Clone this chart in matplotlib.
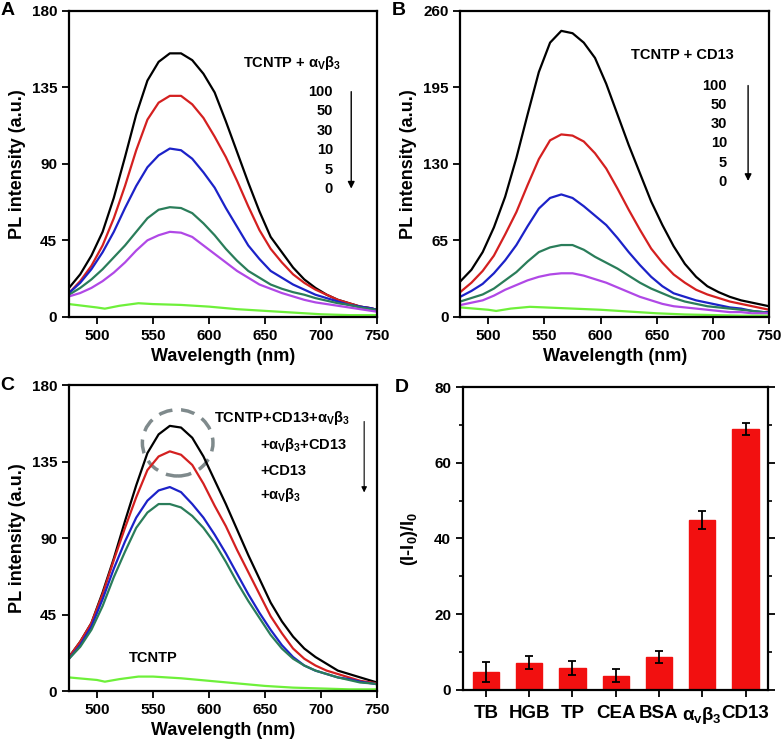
import numpy as np
import matplotlib
matplotlib.use("Agg")
import matplotlib.pyplot as plt
from matplotlib.patches import Ellipse

plt.rcParams["font.family"] = ["Liberation Sans", "DejaVu Sans"]
plt.rcParams["font.weight"] = "bold"
plt.rcParams["mathtext.fontset"] = "custom"
plt.rcParams["mathtext.rm"] = "Liberation Sans:bold"
plt.rcParams["mathtext.it"] = "Liberation Sans:bold"
plt.rcParams["mathtext.bf"] = "Liberation Sans:bold"

wl = [475, 485, 495, 505, 515, 525, 535, 545, 555, 565, 575, 585, 595, 605, 615,
      625, 635, 645, 655, 665, 675, 685, 695, 705, 715, 725, 735, 745, 750]
wl_low = [475, 500, 507, 520, 537, 550, 575, 600, 625, 650, 675, 700, 725, 750]

# panel A : TCNTP + avb3 (100, 50, 30, 10, 5, 0)
a_black = [17, 25, 36, 50, 70, 94, 119, 139, 150, 155, 155, 151, 143, 132, 115,
           97, 79, 62, 47, 38, 29, 22, 17, 13, 10, 8, 6, 5, 4]
a_red = [14, 21, 30, 42, 58, 77, 98, 116, 126, 130, 130, 125, 117, 106, 94,
         80, 65, 51, 40, 32, 25, 20, 16, 13, 10, 8, 6, 5, 4]
a_blue = [14, 20, 28, 38, 50, 64, 77, 88, 95, 99, 98, 93, 85, 76, 64,
          53, 42, 34, 27, 23, 19, 16, 13, 11, 9, 7, 6, 5, 4]
a_teal = [13, 17, 22, 28, 35, 42, 50, 58, 63, 64.5, 64, 61, 55, 48, 40,
          33, 27, 23, 19, 16.5, 14.5, 13, 11, 9.5, 8, 7, 5.5, 4.5, 4]
a_purple = [12, 14, 17, 21, 26, 32, 39, 45, 48, 50, 49.5, 47, 42, 37, 32,
            27, 23, 19, 16.5, 14, 12, 10, 8.5, 7.5, 6.5, 5.5, 4.5, 3.5, 3]
a_green = [7.5, 5.5, 4.8, 6.5, 8, 7.5, 7, 6, 4.5, 3.5, 2.5, 1.5, 1, 1]

# panel B : TCNTP + CD13
b_black = [30, 40, 55, 76, 102, 135, 172, 208, 233, 243, 241, 233, 220, 198, 172,
           146, 122, 98, 78, 60, 45, 34, 26, 21, 17, 14, 12, 10, 9]
b_red = [21, 29, 39, 52, 70, 89, 112, 134, 150, 155, 154, 149, 139, 126, 109,
         91, 74, 58, 46, 36, 29, 23, 19, 16, 13, 11, 9, 7, 6]
b_blue = [17, 22, 28, 37, 48, 61, 77, 92, 101, 104, 101, 94, 86, 78, 67,
          55, 44, 34, 26, 20, 17, 14, 12, 10, 8, 7, 5, 4, 4]
b_teal = [13, 16, 19, 24, 31, 38, 47, 55, 59, 61, 61, 57, 51, 46, 41,
          35, 29, 24, 20, 16, 13, 11, 9, 8, 7, 6, 5, 4, 3]
b_purple = [10, 12, 14, 18, 23, 27, 31, 34, 36, 37, 37, 35, 32, 29, 25,
            21, 17, 14, 11, 9, 8, 7, 6, 5, 4, 4, 3, 3, 3]
b_green = [8, 6, 5, 7, 8.5, 8, 7, 6, 4.5, 3, 2, 1.5, 1, 1]

# panel C : combinations
c_black = [20, 29, 40, 58, 78, 100, 121, 140, 151, 156, 155, 149, 138, 124, 110,
           95, 80, 66, 52, 41, 32, 25, 20, 16, 12, 10, 8, 6, 5]
c_red = [20, 29, 40, 57, 77, 96, 114, 130, 138, 141, 139, 133, 122, 109, 97,
         83, 70, 57, 44, 34, 25, 19, 15, 12, 10, 8, 6, 5, 4.5]
c_blue = [19, 27, 38, 54, 72, 88, 102, 112, 118, 120, 117, 110, 102, 92, 81,
          69, 57, 46, 36, 27, 20, 15, 12, 10, 8, 7, 5.5, 4.5, 4]
c_teal = [19, 26, 36, 50, 67, 82, 96, 105, 110, 110, 108, 103, 96, 87, 76,
          64, 53, 43, 33, 25, 19, 15, 12, 10, 8, 6.5, 5, 4.5, 4]
c_green = [8, 6.5, 5.5, 7, 8.5, 8.5, 7.5, 6, 4.5, 3, 2, 1.5, 1, 1]

# panel D : selectivity
d_labels = ["TB", "HGB", "TP", "CEA", "BSA", r"$\alpha_v\beta_3$", "CD13"]
d_values = [4.8, 7.2, 5.8, 3.8, 8.7, 44.8, 68.8]
d_errors = [2.6, 1.7, 1.9, 1.8, 1.7, 2.4, 1.6]

colors = ["black", "#d42020", "#1c22c8", "#2a7d5a", "#b048e6", "#6ef03a"]
conc = ["100", "50", "30", "10", "5", "0"]


def style_axis(ax, ymax, step):
    ax.set_xlim(475, 750)
    ax.set_ylim(0, ymax)
    ax.set_xticks([500, 550, 600, 650, 700, 750])
    ax.set_yticks(np.arange(0, ymax + 1, step))
    ax.tick_params(direction="out", length=5, width=1.3, labelsize=11)
    for s in ax.spines.values():
        s.set_linewidth(1.6)
    ax.set_xlabel("Wavelength (nm)", fontsize=13, fontweight="bold", labelpad=4)
    ax.set_ylabel("PL intensity (a.u.)", fontsize=13, fontweight="bold", labelpad=4)


fig = plt.figure(figsize=(7.84, 7.49), dpi=100)
axA = fig.add_axes([0.088, 0.577, 0.393, 0.4085])
axB = fig.add_axes([0.587, 0.577, 0.394, 0.4085])
axC = fig.add_axes([0.088, 0.0774, 0.393, 0.4085])
axD = fig.add_axes([0.5906, 0.0788, 0.389, 0.4045])

# A
for y, c in zip([a_black, a_red, a_blue, a_teal, a_purple], colors):
    axA.plot(wl, y, color=c, lw=1.6)
axA.plot(wl_low, a_green, color=colors[5], lw=1.6)
style_axis(axA, 180, 45)
axA.text(0.724, 0.83, r"TCNTP + $\alpha_V\beta_3$", transform=axA.transAxes,
         ha="center", va="center", fontsize=10.5)
for i, t in enumerate(conc):
    axA.text(0.857, 0.735 - i * 0.0634, t, transform=axA.transAxes,
             ha="right", va="center", fontsize=10.5)
axA.annotate("", xy=(0.916, 0.41), xytext=(0.916, 0.745), xycoords="axes fraction",
             arrowprops=dict(arrowstyle="-|>", color="black", lw=1, mutation_scale=10))

# B
for y, c in zip([b_black, b_red, b_blue, b_teal, b_purple], colors):
    axB.plot(wl, y, color=c, lw=1.6)
axB.plot(wl_low, b_green, color=colors[5], lw=1.6)
style_axis(axB, 260, 65)
axB.text(0.718, 0.856, "TCNTP + CD13", transform=axB.transAxes,
         ha="center", va="center", fontsize=10.5)
for i, t in enumerate(conc):
    axB.text(0.864, 0.755 - i * 0.0628, t, transform=axB.transAxes,
             ha="right", va="center", fontsize=10.5)
axB.annotate("", xy=(0.932, 0.435), xytext=(0.932, 0.765), xycoords="axes fraction",
             arrowprops=dict(arrowstyle="-|>", color="black", lw=1, mutation_scale=10))

# C
for y, c in zip([c_black, c_red, c_blue, c_teal], colors):
    axC.plot(wl, y, color=c, lw=1.6)
axC.plot(wl_low, c_green, color=colors[5], lw=1.6)
style_axis(axC, 180, 45)
axC.add_patch(Ellipse((572, 146), 63, 39, fill=False, ec="#7f8a8c",
                      ls=(0, (4, 2.5)), lw=2.5))
axC.text(0.471, 0.892, r"TCNTP+CD13+$\alpha_V\beta_3$", transform=axC.transAxes,
         ha="left", va="center", fontsize=10.5)
axC.text(0.62, 0.804, r"+$\alpha_V\beta_3$+CD13", transform=axC.transAxes,
         ha="left", va="center", fontsize=10.5)
axC.text(0.62, 0.719, "+CD13", transform=axC.transAxes, ha="left", va="center",
         fontsize=10.5)
axC.text(0.62, 0.641, r"+$\alpha_V\beta_3$", transform=axC.transAxes,
         ha="left", va="center", fontsize=10.5)
axC.annotate("", xy=(0.958, 0.64), xytext=(0.958, 0.89), xycoords="axes fraction",
             arrowprops=dict(arrowstyle="-|>", color="black", lw=0.8, mutation_scale=8))
axC.text(0.195, 0.108, "TCNTP", transform=axC.transAxes, ha="left", va="center",
         fontsize=10.5)

# D
xpos = np.arange(1, len(d_labels) + 1)
axD.bar(xpos, d_values, width=0.61, color="#f21010", edgecolor="#f21010")
axD.errorbar(xpos, d_values, yerr=d_errors, fmt="none", ecolor="black",
             elinewidth=1.3, capsize=3, capthick=1.3)
axD.set_xlim(0.47, 7.52)
axD.set_ylim(0, 80)
axD.set_yticks([0, 20, 40, 60, 80])
axD.set_yticks([10, 30, 50, 70], minor=True)
axD.set_xticks(xpos)
axD.set_xticklabels(d_labels, fontsize=13.5)
axD.tick_params(axis="y", which="major", direction="out", length=5, width=1.3,
                labelsize=11, right=True)
axD.tick_params(axis="y", which="minor", direction="out", length=3, width=1.2, right=True)
axD.tick_params(axis="x", direction="out", length=5, width=1.3, pad=6)
for s in axD.spines.values():
    s.set_linewidth(1.6)
axD.set_ylabel(r"(I-I$_0$)/I$_0$", fontsize=13, fontweight="bold", labelpad=10)

for ax, letter in [(axA, "A"), (axB, "B"), (axC, "C"), (axD, "D")]:
    ax.text(-0.2, 1.0, letter, transform=ax.transAxes, ha="center", va="center",
            fontsize=14)

fig.savefig("out.png", dpi=100)
